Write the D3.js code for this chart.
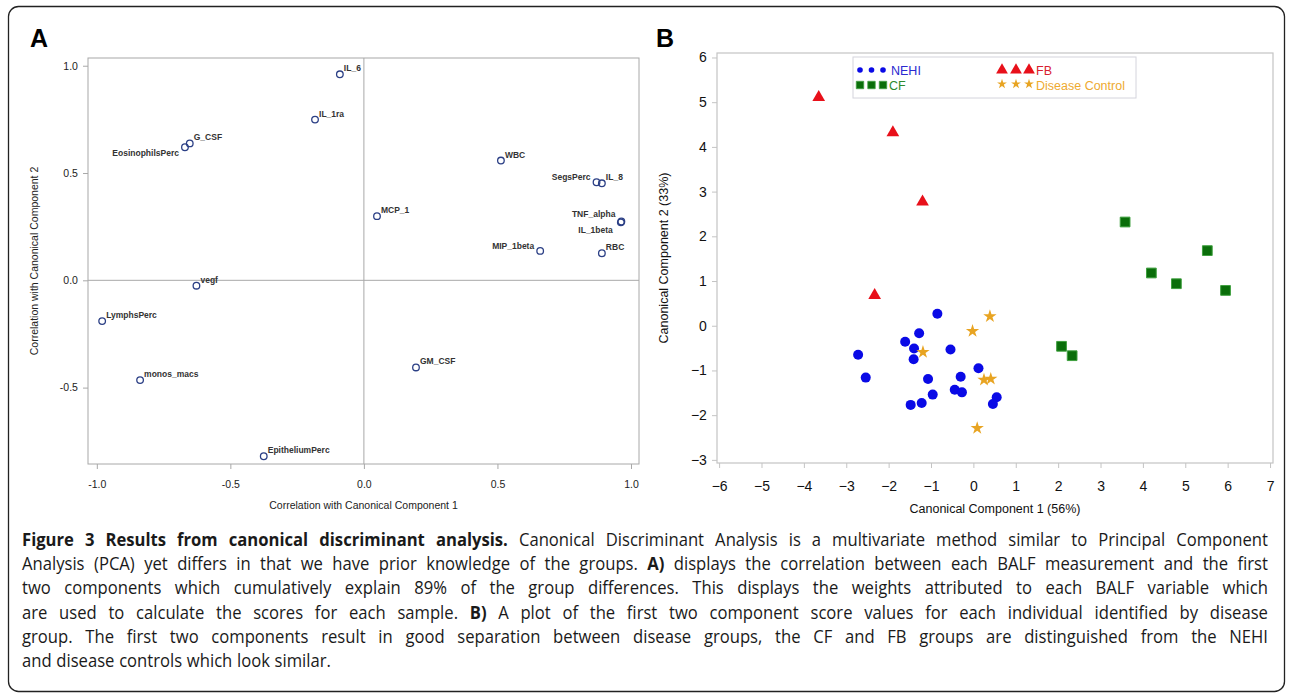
<!DOCTYPE html>
<html><head><meta charset="utf-8">
<script src="https://cdn.jsdelivr.net/npm/d3@7"></script>
<style>
html,body{margin:0;padding:0;background:#fff;}
svg{display:block;}
</style></head>
<body>
<svg id="fig" width="1290" height="695"></svg>
<script>
// ---------- Panel A data ----------
const varNames = ["IL_6","IL_1ra","EosinophilsPerc","G_CSF","WBC","SegsPerc","IL_8","MCP_1","TNF_alpha","IL_1beta","MIP_1beta","RBC","vegf","LymphsPerc","monos_macs","GM_CSF","EpitheliumPerc"];
const corr1 = [-0.09,-0.183,-0.67,-0.652,0.513,0.871,0.891,0.049,0.964,0.962,0.66,0.891,-0.627,-0.98,-0.838,0.195,-0.375];
const corr2 = [0.96,0.749,0.62,0.638,0.558,0.457,0.452,0.299,0.274,0.27,0.137,0.126,-0.025,-0.19,-0.465,-0.406,-0.82];
const labelPlace = ["tr","tr","bl","tr","tr","l","tr","tr","tl","bl2","l","tr","tr","tr","tr","tr","tr"];
const tickValsAx = [-1,-0.5,0,0.5,1];
const tickLabelsAx = ["-1.0","-0.5","0.0","0.5","1.0"];
const tickValsAy = [-0.5,0,0.5,1];
const tickLabelsAy = ["-0.5","0.0","0.5","1.0"];

// ---------- Panel B data ----------
const groups = ["NEHI","CF","FB","Disease Control"];
const nehiX = [-2.72,-2.54,-0.85,-1.28,-1.61,-1.4,-1.41,-0.54,-1.07,-0.3,-0.44,-0.27,-0.96,-1.22,-1.48,0.12,0.55,0.46];
const nehiY = [-0.65,-1.16,0.27,-0.17,-0.36,-0.51,-0.75,-0.53,-1.19,-1.14,-1.43,-1.49,-1.54,-1.73,-1.77,-0.95,-1.6,-1.75];
const cfX = [3.58,5.52,4.2,4.79,5.95,2.08,2.33];
const cfY = [2.32,1.68,1.18,0.94,0.79,-0.46,-0.67];
const fbX = [-3.65,-1.9,-1.2,-2.33];
const fbY = [5.11,4.32,2.77,0.68];
const dcX = [0.39,-0.02,-1.19,0.25,0.41,0.09];
const dcY = [0.21,-0.12,-0.59,-1.21,-1.19,-2.29];
const tickValsBx = [-6,-5,-4,-3,-2,-1,0,1,2,3,4,5,6,7];
const tickValsBy = [-3,-2,-1,0,1,2,3,4,5,6];

// ---------- Caption ----------
const captionLines = [
  [["Figure 3 Results from canonical discriminant analysis.",true],["Canonical Discriminant Analysis is a multivariate method similar to Principal Component",false]],
  [["Analysis (PCA) yet differs in that we have prior knowledge of the groups.",false],["A)",true],["displays the correlation between each BALF measurement and the first",false]],
  [["two components which cumulatively explain 89% of the group differences. This displays the weights attributed to each BALF variable which",false]],
  [["are used to calculate the scores for each sample.",false],["B)",true],["A plot of the first two component score values for each individual identified by disease",false]],
  [["group. The first two components result in good separation between disease groups, the CF and FB groups are distinguished from the NEHI",false]],
  [["and disease controls which look similar.",false]]
];

const svg = d3.select("#fig");

// outer rounded frame
svg.append("rect").attr("x",8.5).attr("y",6.5).attr("width",1276).attr("height",685)
  .attr("rx",10).attr("fill","none").attr("stroke","#222").attr("stroke-width",1.3);

// Panel letters
svg.append("text").attr("x",30).attr("y",47).text("A")
  .attr("font-family","Liberation Sans, Arial, sans-serif").attr("font-weight","bold").attr("font-size",25);
svg.append("text").attr("x",656).attr("y",47).text("B")
  .attr("font-family","Liberation Sans, Arial, sans-serif").attr("font-weight","bold").attr("font-size",25);

// ================= Panel A =================
(function(){
  const L=88,R=639,T=58,B=464;
  const x = d3.scaleLinear().domain([-1.033,1.03]).range([L,R]);
  const y = d3.scaleLinear().domain([-0.856,1.036]).range([B,T]);
  const g = svg.append("g");
  const font = "Liberation Sans, Arial, sans-serif";
  g.append("line").attr("x1",x(0)).attr("x2",x(0)).attr("y1",T).attr("y2",B).attr("stroke","#a8a8a8");
  g.append("line").attr("x1",L).attr("x2",R).attr("y1",y(0)).attr("y2",y(0)).attr("stroke","#a8a8a8");
  g.append("rect").attr("x",L).attr("y",T).attr("width",R-L).attr("height",B-T)
    .attr("fill","none").attr("stroke","#a8a8a8");
  const xa = d3.axisBottom(x).tickValues(tickValsAx).tickFormat((d,i)=>tickLabelsAx[i]).tickSize(5).tickSizeOuter(0);
  const ya = d3.axisLeft(y).tickValues(tickValsAy).tickFormat((d,i)=>tickLabelsAy[i]).tickSize(5).tickSizeOuter(0);
  const gx = g.append("g").attr("transform",`translate(0,${B})`).call(xa);
  const gy = g.append("g").attr("transform",`translate(${L},0)`).call(ya);
  [gx,gy].forEach(a=>{
    a.select(".domain").remove();
    a.selectAll("line").attr("stroke","#a8a8a8");
    a.selectAll("text").attr("font-family",font).attr("font-size",10.5).attr("fill","#222");
  });
  gx.selectAll("text").attr("dy","1.5em");
  gy.selectAll("text").attr("dx","-0.2em");
  g.append("text").attr("x",(L+R)/2).attr("y",509).attr("text-anchor","middle")
    .attr("font-family",font).attr("font-size",10.5).attr("fill","#222").text("Correlation with Canonical Component 1");
  g.append("text").attr("transform",`translate(38,${(T+B)/2}) rotate(-90)`).attr("text-anchor","middle")
    .attr("font-family",font).attr("font-size",10.5).attr("fill","#222").text("Correlation with Canonical Component 2");
  const pts = varNames.map((n,i)=>({n,x:corr1[i],y:corr2[i],p:labelPlace[i]}));
  g.selectAll("circle.pa").data(pts).join("circle").attr("class","pa")
    .attr("cx",d=>x(d.x)).attr("cy",d=>y(d.y)).attr("r",3.3)
    .attr("fill","none").attr("stroke","#2b3f85").attr("stroke-width",1.3);
  const off = {tr:[4,-3,"start"],l:[-6,-2,"end"],tl:[-6,-5,"end"],bl:[-6,9,"end"],bl2:[-8,11,"end"]};
  g.selectAll("text.la").data(pts).join("text").attr("class","la")
    .attr("x",d=>x(d.x)+off[d.p][0]).attr("y",d=>y(d.y)+off[d.p][1])
    .attr("text-anchor",d=>off[d.p][2])
    .attr("font-family",font).attr("font-size",8.5).attr("font-weight","bold").attr("fill","#333")
    .text(d=>d.n);
})();

// ================= Panel B =================
(function(){
  const L=717,R=1273,T=53,B=463;
  const x = d3.scaleLinear().domain([-6.05,7.07]).range([L,R]);
  const y = d3.scaleLinear().domain([-3.07,6.1]).range([B,T]);
  const g = svg.append("g");
  const font = "Liberation Sans, Arial, sans-serif";
  g.append("rect").attr("x",L).attr("y",T).attr("width",R-L).attr("height",B-T)
    .attr("fill","none").attr("stroke","#c4c4c4").attr("stroke-width",1.2);
  const xa = d3.axisBottom(x).tickValues(tickValsBx).tickFormat(d3.format("d")).tickSize(5).tickSizeOuter(0);
  const ya = d3.axisLeft(y).tickValues(tickValsBy).tickFormat(d3.format("d")).tickSize(5).tickSizeOuter(0);
  const gx = g.append("g").attr("transform",`translate(0,${B})`).call(xa);
  const gy = g.append("g").attr("transform",`translate(${L},0)`).call(ya);
  [gx,gy].forEach(a=>{
    a.select(".domain").remove();
    a.selectAll("line").attr("stroke","#c4c4c4");
    a.selectAll("text").attr("font-family",font).attr("font-size",14).attr("fill","#111");
  });
  gx.selectAll("text").attr("dy","1.4em");
  gy.selectAll("text").attr("dx","-0.15em");
  g.append("text").attr("x",995).attr("y",513).attr("text-anchor","middle")
    .attr("font-family",font).attr("font-size",12.5).attr("fill","#111").text("Canonical Component 1 (56%)");
  g.append("text").attr("transform",`translate(668,${(T+B)/2}) rotate(-90)`).attr("text-anchor","middle")
    .attr("font-family",font).attr("font-size",12.5).attr("fill","#111").text("Canonical Component 2 (33%)");

  const col = {NEHI:"#0a0ae6",CF:"#0a6e0a",FB:"#e8101a",DC:"#e8a422"};
  g.selectAll("circle.ne").data(nehiX.map((v,i)=>[v,nehiY[i]])).join("circle").attr("class","ne")
    .attr("cx",d=>x(d[0])).attr("cy",d=>y(d[1])).attr("r",5).attr("fill",col.NEHI);
  const sq = d3.symbol().type(d3.symbolSquare).size(95);
  g.selectAll("path.cf").data(cfX.map((v,i)=>[v,cfY[i]])).join("path").attr("class","cf")
    .attr("d",sq).attr("transform",d=>`translate(${x(d[0])},${y(d[1])})`)
    .attr("fill",col.CF).attr("stroke","#3fa03f").attr("stroke-width",1);
  const tri = d3.symbol().type(d3.symbolTriangle).size(70);
  g.selectAll("path.fb").data(fbX.map((v,i)=>[v,fbY[i]])).join("path").attr("class","fb")
    .attr("d",tri).attr("transform",d=>`translate(${x(d[0])},${y(d[1])})`).attr("fill",col.FB);
  const star = d3.symbol().type(d3.symbolStar).size(55);
  g.selectAll("path.dc").data(dcX.map((v,i)=>[v,dcY[i]])).join("path").attr("class","dc")
    .attr("d",star).attr("transform",d=>`translate(${x(d[0])},${y(d[1])})`).attr("fill",col.DC);

  // legend
  const lg = g.append("g");
  lg.append("rect").attr("x",853).attr("y",57).attr("width",283).attr("height",41)
    .attr("fill","#fff").attr("stroke","#d4d4dc");
  const lf = 12.5;
  [860,871.5,883].forEach(cx=>lg.append("circle").attr("cx",cx).attr("cy",70).attr("r",2.8).attr("fill",col.NEHI));
  lg.append("text").attr("x",891).attr("y",74.5).text(groups[0]).attr("font-family",font).attr("font-size",lf).attr("fill","#2a2ad0");
  [860,871.5,883].forEach(cx=>lg.append("path").attr("d",d3.symbol().type(d3.symbolSquare).size(55)()).attr("transform",`translate(${cx},85)`).attr("fill",col.CF).attr("stroke","#3fa03f").attr("stroke-width",0.8));
  lg.append("text").attr("x",889).attr("y",89.5).text(groups[1]).attr("font-family",font).attr("font-size",lf).attr("fill","#2e8a2e");
  [1002,1016,1029].forEach(cx=>lg.append("path").attr("d",d3.symbol().type(d3.symbolTriangle).size(60)()).attr("transform",`translate(${cx},70)`).attr("fill",col.FB));
  lg.append("text").attr("x",1036).attr("y",74.5).text(groups[2]).attr("font-family",font).attr("font-size",lf).attr("fill","#d82030");
  [1002,1016,1029].forEach(cx=>lg.append("path").attr("d",d3.symbol().type(d3.symbolStar).size(30)()).attr("transform",`translate(${cx},84)`).attr("fill",col.DC));
  lg.append("text").attr("x",1036).attr("y",89.5).text(groups[3]).attr("font-family",font).attr("font-size",lf).attr("fill","#eeaa30");
})();

// ================= Caption (justified, slightly condensed) =================
(function(){
  const left=22, right=1268, W=right-left;
  const baseY = 546, lh = 24.2;
  const fam = "Open Sans, Noto Sans, sans-serif";
  const sx = 0.9;
  let fs = 18.5;
  const g = svg.append("g").attr("font-family",fam).attr("fill","#1a1a1a");
  const lines = captionLines.map(segs=>{
    const words=[];
    segs.forEach(([t,b])=>t.split(" ").forEach(w=>{ if(w) words.push({w,b}); }));
    return words;
  });
  function render(size){
    g.selectAll("*").remove();
    let maxNat = 0;
    lines.forEach((words,li)=>{
      const yy = baseY+li*lh;
      const els = words.map(o=>g.append("text").attr("font-size",size).attr("font-weight",o.b?"bold":"normal").text(o.w));
      const widths = els.map(e=>e.node().getComputedTextLength()*sx);
      const sum = d3.sum(widths);
      const spaceW = size*0.25;
      maxNat = Math.max(maxNat, sum + spaceW*(words.length-1));
      const justify = li < lines.length-1;
      const gap = justify ? (W-sum)/(words.length-1) : spaceW;
      let cx = left;
      els.forEach((e,i)=>{ e.attr("transform",`translate(${cx},${yy}) scale(${sx},1)`); cx += widths[i]+gap; });
    });
    return maxNat;
  }
  let nat = render(fs);
  if(nat > W){ fs = fs*W/nat*0.995; render(fs); }
})();
</script>
</body></html>
